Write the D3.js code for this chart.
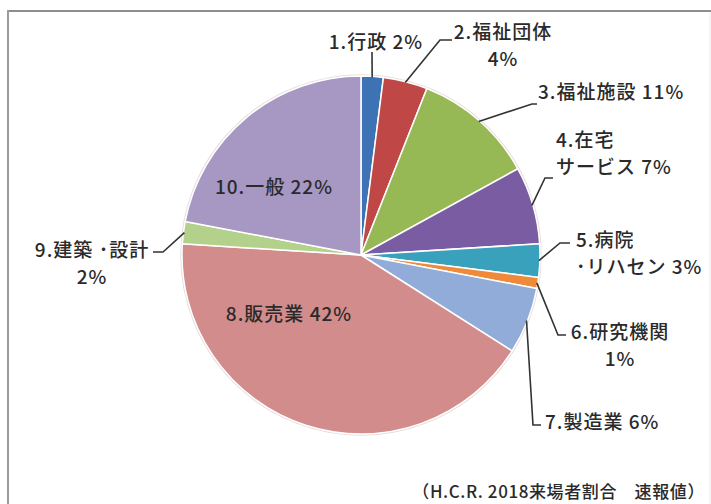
<!DOCTYPE html>
<html>
<head>
<meta charset="utf-8">
<script src="https://cdn.jsdelivr.net/npm/d3@7"></script>
<style>
  body { margin: 0; background: #fff; }
  svg { display: block; }
</style>
</head>
<body>
<div id="chart"></div>
<script>
// 来場者割合 (%)
const categories = ["1.行政", "2.福祉団体", "3.福祉施設", "4.在宅サービス", "5.病院・リハセン",
  "6.研究機関", "7.製造業", "8.販売業", "9.建築・設計", "10.一般"];
const shares = [2, 4, 11, 7, 3, 1, 6, 42, 2, 22];
// label text as printed in the chart (line breaks included)
const labelLines = [
  ["1.行政 2%"],
  ["2.福祉団体", "4%"],
  ["3.福祉施設 11%"],
  ["4.在宅", "サービス 7%"],
  ["5.病院", "･リハセン 3%"],
  ["6.研究機関", "1%"],
  ["7.製造業 6%"],
  ["8.販売業 42%"],
  ["9.建築 ･設計", "2%"],
  ["10.一般 22%"]
];
const note = "（H.C.R. 2018来場者割合　速報値）";

const colors = ["#3d72b5", "#bf4745", "#97b955", "#7a5ca3", "#3aa1bd",
  "#ef8a3a", "#92acd9", "#d38c8c", "#b4d18c", "#a697c3"];

// label placement: x, y of first line, anchor, leader bend + end
const layout = [
  { x: 376, y: 40, anchor: "middle", leader: [[372, 52]] },
  { x: 503, y: 30, anchor: "middle", leader: [[440, 40], [452, 40]] },
  { x: 538, y: 90, anchor: "start", leader: [[532, 104], [537, 104]] },
  { x: 556, y: 138, anchor: "start", leader: [[545, 178], [553, 178]] },
  { x: 576, y: 238, anchor: "start", leader: [[560, 243], [570, 243]] },
  { x: 620, y: 330, anchor: "middle", leader: [[558, 335], [566, 335]] },
  { x: 545, y: 420, anchor: "start", leader: [[533, 425], [541, 425]] },
  { x: 289, y: 312, anchor: "middle", leader: null },
  { x: 92, y: 248, anchor: "middle", leader: [[163, 252], [153, 252]] },
  { x: 274, y: 185, anchor: "middle", leader: null }
];

const width = 711, height = 504;
const cx = 361, cy = 255, radius = 179;
const lineGap = 27;

const svg = d3.select("#chart").append("svg")
  .attr("width", width)
  .attr("height", height);

// frame
svg.append("line").attr("x1", 7).attr("x2", 711).attr("y1", 11).attr("y2", 11)
  .attr("stroke", "#8e8e8e").attr("stroke-width", 2);
svg.append("line").attr("x1", 8).attr("x2", 8).attr("y1", 10).attr("y2", 504)
  .attr("stroke", "#9a9a9a").attr("stroke-width", 2);
svg.append("line").attr("x1", 710).attr("x2", 710).attr("y1", 12).attr("y2", 504)
  .attr("stroke", "#ececec").attr("stroke-width", 1);

const data = categories.map((c, i) => ({ name: c, value: shares[i], i }));
const arcs = d3.pie().sort(null).value(d => d.value)(data);
const arc = d3.arc().innerRadius(0).outerRadius(radius);

const g = svg.append("g").attr("transform", `translate(${cx},${cy})`);

g.append("circle").attr("r", radius + 1)
  .attr("fill", "none").attr("stroke", "#eadede").attr("stroke-width", 1.5);

g.selectAll("path")
  .data(arcs)
  .join("path")
  .attr("fill", d => colors[d.data.i])
  .attr("stroke", "white")
  .attr("stroke-width", 1.5)
  .attr("stroke-linejoin", "round")
  .attr("d", arc);

// leader lines: from the slice edge at its mid angle to the label
const edge = d => {
  const a = (d.startAngle + d.endAngle) / 2;
  return [cx + Math.sin(a) * (radius - 1), cy - Math.cos(a) * (radius - 1)];
};
svg.append("g")
  .selectAll("path")
  .data(arcs.filter(d => layout[d.data.i].leader))
  .join("path")
  .attr("fill", "none")
  .attr("stroke", "#333")
  .attr("stroke-width", 1.6)
  .attr("d", d => d3.line()([edge(d), ...layout[d.data.i].leader]));

// labels
const labels = svg.append("g")
  .attr("font-family", "'Noto Sans CJK JP', 'Noto Sans', sans-serif")
  .attr("font-size", 19)
  .attr("font-weight", 500)
  .attr("letter-spacing", 1)
  .attr("fill", "#2a2a2a")
  .selectAll("text")
  .data(arcs)
  .join("text")
  .attr("text-anchor", d => layout[d.data.i].anchor)
  .attr("dominant-baseline", "central");

labels.selectAll("tspan")
  .data(d => labelLines[d.data.i].map((t, k) => ({ t, k, p: layout[d.data.i] })))
  .join("tspan")
  .attr("x", d => d.p.x)
  .attr("y", d => d.p.y + d.k * 27)
  .text(d => d.t);

svg.append("text")
  .attr("x", 705)
  .attr("y", 490)
  .attr("text-anchor", "end")
  .attr("dominant-baseline", "central")
  .attr("font-family", "'Noto Sans CJK JP', sans-serif")
  .attr("font-size", 17)
  .attr("font-weight", 500)
  .attr("letter-spacing", 0.6)
  .attr("fill", "#2a2a2a")
  .text(note);
</script>
</body>
</html>
